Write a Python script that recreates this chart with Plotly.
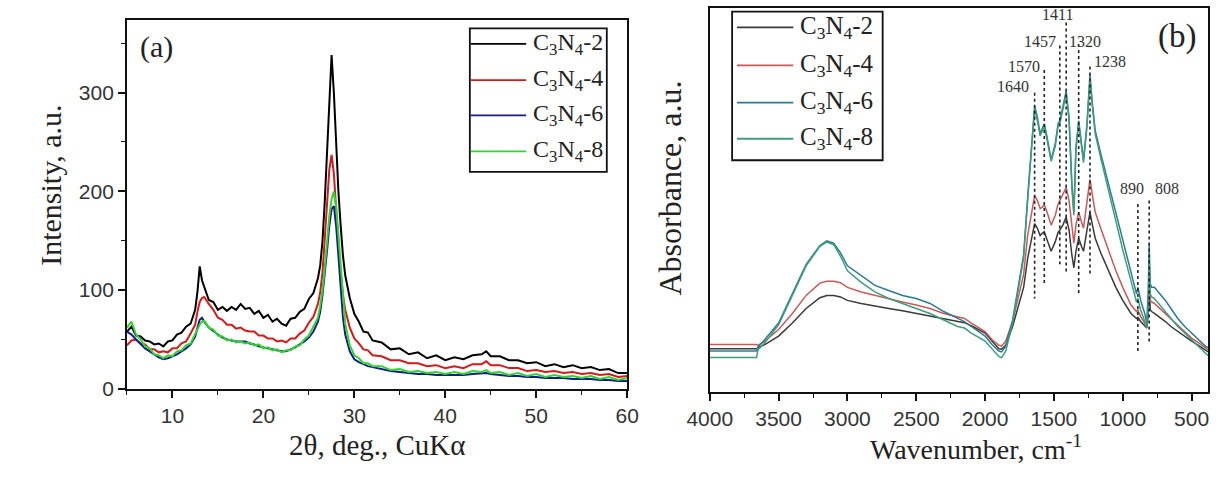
import plotly.graph_objects as go

# ---------------- XRD data (panel a) ----------------
xrd_2theta = [5, 5.5, 6, 6.5, 7, 7.5, 8, 8.5, 9, 9.5,
              10, 10.5, 11, 11.5, 12, 12.5, 12.75, 13, 13.25, 13.5,
              14, 14.5, 15, 15.5, 16, 16.5, 17, 17.5, 18, 18.5,
              19, 19.5, 20, 20.5, 21, 21.5, 22, 22.5, 23, 23.5,
              24, 24.5, 25, 25.5, 26, 26.25, 26.5, 26.75, 27, 27.25,
              27.5, 27.75, 28, 28.25, 28.5, 28.75, 29, 29.5, 30, 30.5,
              31, 31.5, 32, 33, 34, 35, 36, 37, 38, 39,
              40, 41, 42, 43, 44, 44.5, 45, 46, 47, 48,
              49, 50, 51, 52, 53, 54, 55, 56, 57, 58,
              59, 60]

xrd_c3n4_2 = [58, 63, 54, 53, 49, 48, 45, 46, 43, 48,
              49, 55, 57, 63, 66, 80, 98, 124, 110, 104,
              90, 88, 80, 83, 79, 83, 80, 86, 81, 82,
              76, 79, 72, 75, 68, 71, 66, 64, 71, 72,
              78, 81, 91, 97, 112, 125, 150, 190, 240, 300,
              338, 300, 245, 200, 165, 135, 115, 92, 76, 68,
              58, 57, 49, 47, 40, 41, 35, 37, 31, 34,
              29, 32, 30, 34, 35, 38, 33, 33, 29, 29,
              26, 27, 23, 25, 22, 24, 21, 22, 19, 20,
              16, 16]

xrd_c3n4_4 = [44, 49, 50, 46, 45, 40, 40, 37, 38, 37,
              41, 41, 46, 48, 56, 65, 78, 88, 92, 93,
              86, 80, 72, 70, 65, 65, 61, 62, 59, 58,
              58, 54, 54, 51, 51, 48, 49, 47, 51, 51,
              56, 59, 67, 73, 86, 98, 118, 150, 190, 222,
              237, 218, 182, 148, 118, 95, 80, 62, 51, 46,
              40, 39, 34, 33, 29, 29, 26, 26, 23, 24,
              21, 23, 21, 25, 25, 28, 24, 24, 21, 21,
              18, 19, 17, 18, 16, 17, 15, 16, 14, 15,
              12, 13]

xrd_c3n4_6 = [58, 55, 50, 45, 41, 38, 35, 32, 30, 31,
              33, 35, 38, 41, 45, 53, 62, 70, 72, 68,
              62, 58, 55, 52, 50, 49, 48, 48, 48, 46,
              45, 43, 42, 41, 40, 39, 38, 38, 40, 42,
              45, 48, 52, 58, 68, 78, 95, 115, 140, 165,
              182, 185, 165, 135, 100, 72, 55, 38, 30, 27,
              25, 23, 22, 20, 18, 17, 16, 15, 15, 14,
              14, 14, 14, 15, 16, 16, 15, 14, 13, 13,
              12, 12, 11, 11, 11, 10, 10, 10, 9, 9,
              8, 8]

xrd_c3n4_8 = [62, 68, 55, 50, 43, 41, 35, 34, 31, 34,
              33, 38, 39, 44, 46, 56, 60, 65, 68, 69,
              62, 60, 54, 53, 49, 50, 47, 48, 46, 47,
              44, 45, 41, 42, 39, 40, 37, 39, 39, 43,
              44, 50, 54, 63, 72, 84, 100, 123, 150, 175,
              192, 200, 185, 155, 120, 90, 66, 44, 34, 31,
              26, 26, 23, 23, 19, 20, 17, 18, 16, 17,
              15, 17, 15, 18, 17, 19, 16, 17, 14, 16,
              13, 15, 12, 14, 12, 13, 11, 13, 10, 12,
              9, 11]

# ---------------- FTIR data (panel b) ----------------
ftir_wn = [4000, 3700, 3660, 3650, 3600, 3500, 3400, 3300, 3200, 3150,
           3100, 3050, 3000, 2900, 2800, 2700, 2600, 2500, 2400, 2300,
           2200, 2150, 2100, 2000, 1950, 1900, 1880, 1850, 1800, 1760,
           1720, 1690, 1660, 1640, 1620, 1600, 1585, 1570, 1550, 1520,
           1490, 1470, 1457, 1435, 1411, 1390, 1370, 1355, 1340, 1320,
           1300, 1285, 1260, 1238, 1220, 1200, 1160, 1100, 1050, 1000,
           940, 900, 890, 870, 840, 826, 815, 808, 800, 790,
           770, 730, 690, 650, 600, 550, 500, 450, 400, 380]

ftir_c3n4_2 = [11.2, 11.2, 11.2, 11.5, 12.3, 14.5, 17.9, 21.7, 24.5, 25.1,
               25.1, 24.7, 23.8, 23.0, 22.3, 21.7, 21.1, 20.4, 19.7, 18.9,
               18.3, 18.0, 17.2, 15.3, 13.2, 11.2, 11.1, 12.1, 17.0, 22.1,
               27.2, 34.9, 40.9, 43.8, 42.6, 40.7, 41.3, 41.7, 39.6, 36.6,
               39.1, 41.5, 42.1, 43.4, 45.5, 42.1, 35.7, 32.3, 36.6, 40.0,
               37.9, 36.6, 42.1, 46.8, 43.4, 40.0, 36.2, 31.5, 27.2, 23.8,
               20.4, 19.1, 19.4, 18.3, 17.2, 16.6, 20.0, 28.1, 21.3, 20.9,
               20.4, 19.4, 18.3, 17.0, 15.7, 14.5, 13.2, 12.1, 10.9, 10.4]

ftir_c3n4_4 = [12.3, 12.3, 12.3, 12.1, 13.2, 16.2, 20.4, 25.1, 28.3, 28.8,
               28.8, 28.4, 27.2, 26.0, 25.1, 24.3, 23.4, 22.6, 21.7, 20.4,
               19.4, 19.1, 17.9, 15.7, 13.6, 12.1, 11.9, 13.2, 18.3, 24.7,
               30.6, 40.9, 47.7, 51.1, 49.8, 47.7, 48.1, 48.7, 46.8, 43.4,
               46.0, 48.9, 49.8, 51.3, 53.2, 49.8, 42.6, 38.7, 43.4, 46.8,
               44.3, 42.6, 49.4, 55.3, 51.1, 46.8, 42.6, 36.6, 31.5, 27.2,
               22.6, 20.9, 21.3, 19.6, 17.9, 17.0, 21.3, 31.5, 23.8, 23.4,
               23.0, 21.7, 20.4, 19.1, 17.4, 15.7, 14.0, 12.8, 11.5, 10.9]

ftir_c3n4_6 = [10.6, 10.6, 10.6, 11.7, 13.6, 17.9, 25.5, 33.2, 38.1, 39.3,
               38.7, 36.2, 32.8, 30.2, 27.7, 26.4, 25.1, 24.3, 23.0, 20.9,
               19.1, 18.3, 17.0, 14.5, 12.3, 10.6, 10.4, 11.9, 18.7, 27.2,
               35.7, 51.1, 66.4, 74.5, 71.5, 67.2, 68.5, 69.8, 66.4, 60.4,
               64.7, 69.8, 70.6, 74.0, 78.3, 71.5, 54.5, 46.8, 63.8, 70.6,
               64.7, 60.4, 69.8, 82.6, 74.9, 68.1, 62.1, 53.6, 46.8, 39.1,
               30.6, 25.5, 27.2, 23.8, 20.4, 17.9, 25.5, 38.3, 28.1, 27.2,
               27.2, 25.5, 23.8, 21.7, 19.1, 17.0, 15.3, 13.6, 11.9, 11.5]

ftir_c3n4_8 = [8.9, 8.9, 8.9, 10.9, 12.8, 17.4, 25.1, 32.8, 37.9, 39.0,
               38.3, 35.3, 31.5, 28.5, 26.0, 24.3, 23.0, 21.7, 20.4, 18.7,
               17.0, 16.6, 15.3, 13.2, 11.1, 9.2, 8.9, 10.6, 17.9, 26.4,
               34.9, 50.2, 65.5, 73.6, 70.6, 66.6, 67.9, 69.1, 65.7, 60.0,
               64.0, 69.1, 69.9, 73.2, 77.4, 70.8, 53.6, 46.0, 63.0, 69.9,
               64.0, 59.7, 68.9, 81.7, 74.0, 67.2, 60.9, 51.9, 44.7, 37.0,
               28.9, 23.4, 24.3, 21.3, 18.3, 16.6, 22.1, 34.0, 25.5, 24.7,
               24.3, 22.6, 20.9, 19.1, 17.0, 15.3, 13.6, 11.9, 10.2, 9.4]

# Assigned absorption bands (dotted guide lines)
peak_wn = [1640, 1570, 1457, 1411, 1320, 1238, 890, 808]
peak_top = [77.9, 83.8, 90.2, 96.2, 90.6, 84.7, 48.9, 49.8]
peak_bottom = [24.3, 27.7, 33.2, 30.6, 25.5, 30.2, 10.2, 12.3]
peak_label_y = [79.6, 84.7, 91.3, 98.2, 91.3, 86.0, 52.9, 52.9]

sample_names = ["C<sub>3</sub>N<sub>4</sub>-2", "C<sub>3</sub>N<sub>4</sub>-4",
                "C<sub>3</sub>N<sub>4</sub>-6", "C<sub>3</sub>N<sub>4</sub>-8"]

# ---------------- styling ----------------
W, H = 1223, 479
SERIF = "Liberation Serif, Times New Roman, serif"
SANS = "Liberation Sans, Arial, sans-serif"
xrd_colors = ["#000000", "#d41a1a", "#1a1a8c", "#2fd62f"]
ftir_colors = ["#3a3a3a", "#c85a5a", "#2b7c8e", "#3f9c7c"]


def fx(p):
    return p / W


def fy(p):
    return 1 - p / H


fig = go.Figure()

for ys, name, col in zip([xrd_c3n4_2, xrd_c3n4_4, xrd_c3n4_6, xrd_c3n4_8],
                         sample_names, xrd_colors):
    fig.add_trace(go.Scatter(x=xrd_2theta, y=ys, mode="lines", name=name,
                             line=dict(color=col, width=2),
                             xaxis="x", yaxis="y", showlegend=False))

for ys, name, col in zip([ftir_c3n4_2, ftir_c3n4_4, ftir_c3n4_6, ftir_c3n4_8],
                         sample_names, ftir_colors):
    fig.add_trace(go.Scatter(x=ftir_wn, y=ys, mode="lines", name=name,
                             line=dict(color=col, width=1.5),
                             xaxis="x2", yaxis="y2", showlegend=False))

# dotted band markers
for wn, top, bot in zip(peak_wn, peak_top, peak_bottom):
    fig.add_trace(go.Scatter(x=[wn, wn], y=[top, bot], mode="lines",
                             line=dict(color="#222222", width=1.6, dash="dot"),
                             xaxis="x2", yaxis="y2", showlegend=False,
                             hoverinfo="skip"))

label_anchor = ["right", "right", "right", "center", "left", "left", "center", "left"]
label_shift = [-4, -2, -2, -9, -12, 2, -6, 4]
annotations = []
for wn, ly, anc, sh in zip(peak_wn, peak_label_y, label_anchor, label_shift):
    annotations.append(dict(x=wn, y=ly, xref="x2", yref="y2", text=str(wn),
                            showarrow=False, xanchor=anc, yanchor="middle",
                            xshift=sh, font=dict(family=SERIF, size=16, color="#333333")))


def paper_text(px, py, text, size, angle=0):
    return dict(x=fx(px), y=fy(py), xref="paper", yref="paper", text=text,
                showarrow=False, xanchor="center", yanchor="middle", textangle=angle,
                font=dict(family=SERIF, size=size, color="#222222"))


# panel letters and axis titles
annotations += [
    paper_text(137, 48, "(a)", 30),
    paper_text(1188, 37, "(b)", 33),
    paper_text(28, 190, "Intensity, a.u.", 30, -90),
    paper_text(365, 455, "2θ, deg., CuKα", 29),
    paper_text(666, 192, "Absorbance, a.u.", 32, -90),
    paper_text(981, 458, "Wavenumber, cm<sup>-1</sup>", 28),
]

# legend boxes drawn as shapes with text entries
shapes = []


def add_legend(box, rows, line_x, text_x, colors, fsize):
    x0, y0, x1, y1 = box
    shapes.append(dict(type="rect", xref="paper", yref="paper",
                       x0=fx(x0), x1=fx(x1), y0=fy(y0), y1=fy(y1),
                       line=dict(color="#111111", width=1.8), fillcolor="white", layer="above"))
    for ry, name, col in zip(rows, sample_names, colors):
        shapes.append(dict(type="line", xref="paper", yref="paper",
                           x0=fx(line_x[0]), x1=fx(line_x[1]), y0=fy(ry), y1=fy(ry),
                           line=dict(color=col, width=1.8), layer="above"))
        annotations.append(dict(x=fx(text_x), y=fy(ry), xref="paper", yref="paper",
                                text=name, showarrow=False, xanchor="left", yanchor="middle",
                                font=dict(family=SERIF, size=fsize, color="#222222")))


add_legend((460, 29, 601, 176), [45, 82, 118, 155], (461, 518), 523, xrd_colors, 24)
add_legend((730, 12, 885, 164), [28, 67, 105, 142], (735, 793), 798, ftir_colors, 25)

axis_common = dict(showline=True, linecolor="#111111", linewidth=1.8, mirror=True,
                   showgrid=False, zeroline=False, ticks="outside", ticklen=7,
                   tickwidth=1.5, tickcolor="#111111",
                   tickfont=dict(family=SANS, size=21, color="#333333"))

fig.update_layout(
    width=W, height=H,
    margin=dict(l=0, r=0, t=0, b=0),
    paper_bgcolor="white", plot_bgcolor="white",
    showlegend=False,
    xaxis=dict(domain=[fx(107), fx(622)], range=[5, 60], dtick=10, tick0=0,
               minor=dict(dtick=5, tick0=0, ticks="outside", ticklen=4, tickwidth=1.2,
                          tickcolor="#111111", showgrid=False),
               anchor="y", **axis_common),
    yaxis=dict(domain=[fy(398), fy(20)], range=[0, 374], dtick=100, tick0=0,
               minor=dict(dtick=50, tick0=0, ticks="outside", ticklen=4, tickwidth=1.2,
                          tickcolor="#111111", showgrid=False),
               anchor="x", **axis_common),
    xaxis2=dict(domain=[fx(707), fx(1220)], range=[4000, 380], dtick=500, tick0=0,
                minor=dict(dtick=250, tick0=0, ticks="outside", ticklen=4, tickwidth=1.2,
                           tickcolor="#111111", showgrid=False),
                anchor="y2", **axis_common),
    yaxis2=dict(domain=[fy(401), fy(8)], range=[0, 100], anchor="x2",
                showline=True, linecolor="#111111", linewidth=1.8, mirror=True,
                showgrid=False, zeroline=False, ticks="", showticklabels=False),
    annotations=annotations,
    shapes=shapes,
)

fig.write_html("out.html")
